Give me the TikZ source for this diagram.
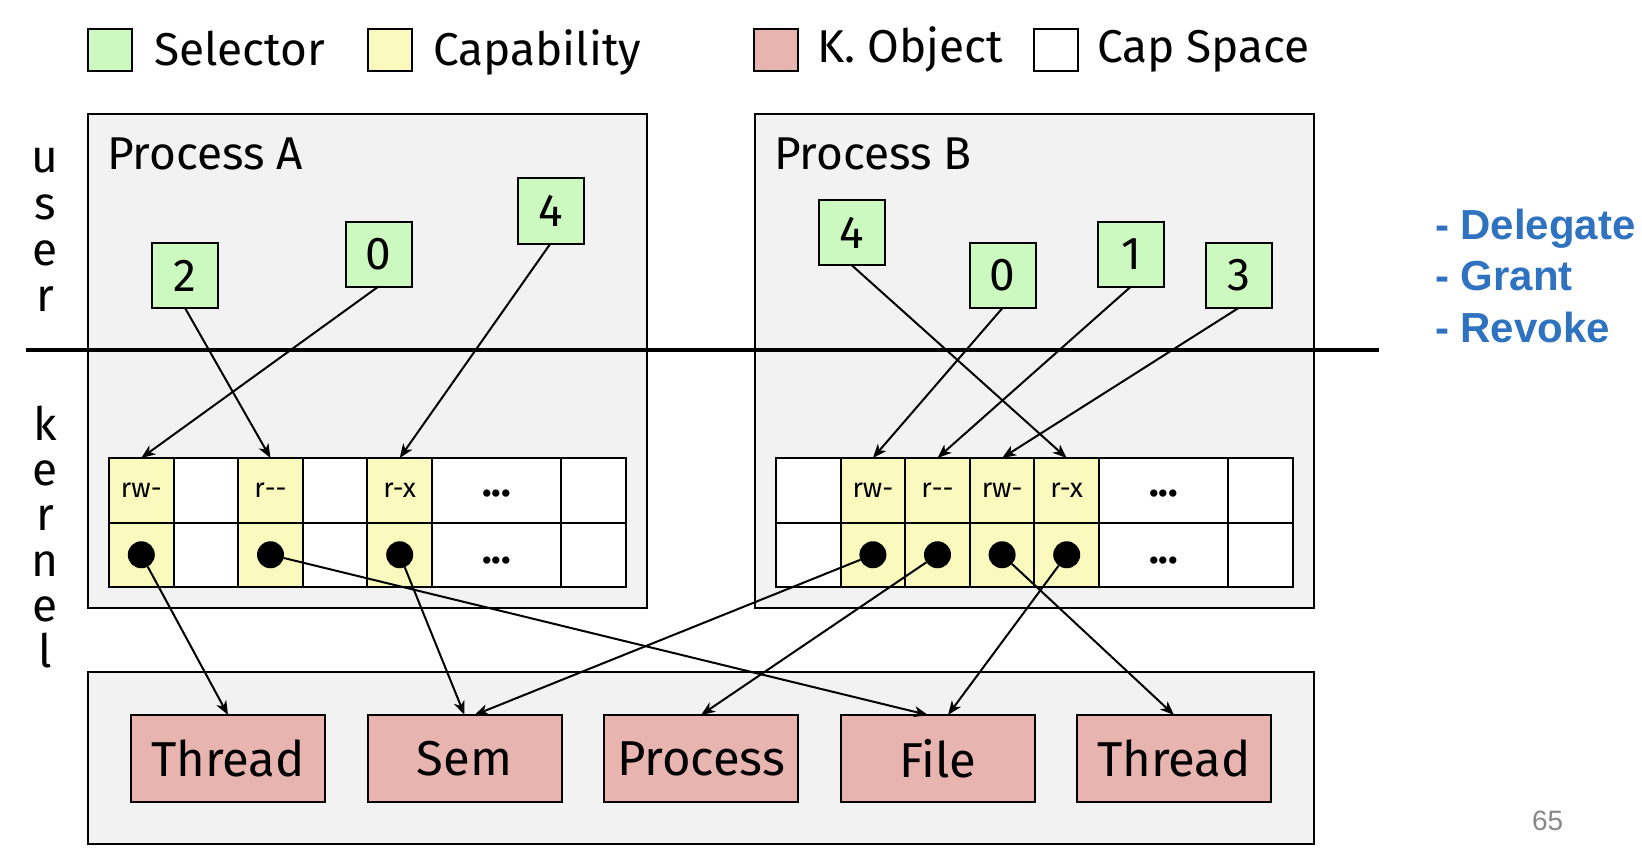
\documentclass[tikz,border=0pt]{standalone}
\usepackage{fontspec}
\setmainfont{Fira Sans}
\newfontfamily\bluefont{Liberation Sans}
\usetikzlibrary{arrows.meta,calc}
\definecolor{selgreen}{RGB}{204,249,191}
\definecolor{capyellow}{RGB}{250,250,190}
\definecolor{objpink}{RGB}{232,180,176}
\definecolor{boxgray}{RGB}{242,242,242}
\definecolor{noteblue}{RGB}{46,114,192}
\definecolor{pagegray}{RGB}{135,135,135}
\begin{document}
\begin{tikzpicture}[x=1pt,y=-1pt,
  every node/.style={inner sep=0pt, outer sep=0pt},
  area/.style={draw=black, fill=boxgray, line width=2pt, anchor=north west},
  sel/.style={draw, fill=selgreen, line width=2pt, minimum width=66pt, minimum height=65pt, font=\fontsize{46}{50}\selectfont},
  cell/.style={draw, line width=2pt, minimum width=64.6pt, minimum height=64.5pt, fill=white, font=\fontsize{27}{30}\selectfont},
  capcell/.style={cell, fill=capyellow},
  widecell/.style={cell, minimum width=129.2pt, font=\fontsize{40}{40}\selectfont\bfseries, text depth=0pt},
  dot/.style={circle, fill=black, minimum size=27pt},
  kobj/.style={draw, fill=objpink, line width=2pt, minimum width=194pt, minimum height=87pt, font=\fontsize{49}{54}\selectfont},
  ptr/.style={line width=2pt, -{Stealth[length=14pt,width=11pt,inset=4pt]}},
  legbox/.style={draw, line width=2pt, minimum width=44pt, minimum height=42pt},
  lbl/.style={font=\fontsize{46}{50}\selectfont, anchor=base west},
  vletter/.style={font=\fontsize{46}{50}\selectfont, anchor=base},
  note/.style={font=\bluefont\bfseries\fontsize{42}{50}\selectfont, text=noteblue, anchor=base west},
]
\fill[white] (0,0) rectangle (1642,856);
\useasboundingbox (0,0) rectangle (1642,856);

% legend
\node[legbox, fill=selgreen] (lgsel) at (110,50) {};
\node[lbl] (lgseltxt) at (154,66) {Selector};
\node[legbox, fill=capyellow] (lgcap) at (389.5,50) {};
\node[lbl] (lgcaptxt) at (433,66) {Capability};
\node[legbox, fill=objpink] (lgobj) at (776,50) {};
\node[lbl] (lgobjtxt) at (817,63) {K. Object};
\node[legbox, fill=white] (lgspace) at (1055.5,50) {};
\node[lbl] (lgspacetxt) at (1097,63) {Cap Space};

% areas
\node[area, minimum width=559pt, minimum height=494pt] (procA) at (88,114) {};
\node[area, minimum width=559pt, minimum height=494pt] (procB) at (755,114) {};
\node[area, minimum width=1226pt, minimum height=172pt] (kern) at (88,672) {};
\node[lbl] (procAlbl) at (107,170) {Process A};
\node[lbl] (procBlbl) at (774,170) {Process B};

% user / kernel labels
\foreach \l [count=\i] in {u,s,e,r}
  \node[vletter] (user\i) at (45,{173+46*(\i-1)}) {\l};
\foreach \l [count=\i] in {k,e,r,n,e,l}
  \node[vletter] (kernel\i) at (45,{440+45.4*(\i-1)}) {\l};

% separator line
\coordinate (sepL) at (26,350);
\coordinate (sepR) at (1379,350);
\draw[line width=4.5pt] (sepL) -- (sepR);

% selectors
\node[sel] (sA2) at (185,275.5) {2};
\node[sel] (sA0) at (378.5,254) {0};
\node[sel] (sA4) at (550.5,211) {4};
\node[sel] (sB4) at (851.5,232.5) {4};
\node[sel] (sB0) at (1002.5,275.5) {0};
\node[sel] (sB1) at (1131,254) {1};
\node[sel] (sB3) at (1238.5,275.5) {3};

% capability table A
\node[capcell] (at0) at (141.3,490.25) {rw-};
\node[cell]    (at1) at (205.9,490.25) {};
\node[capcell] (at2) at (270.5,490.25) {r\mbox{-}\mbox{-}};
\node[cell]    (at3) at (335.1,490.25) {};
\node[capcell] (at4) at (399.7,490.25) {r-x};
\node[widecell, text height=12pt] (at5) at (496.6,490.25) {...};
\node[cell]    (at7) at (593.5,490.25) {};
\node[capcell] (ab0) at (141.3,554.75) {};
\node[cell]    (ab1) at (205.9,554.75) {};
\node[capcell] (ab2) at (270.5,554.75) {};
\node[cell]    (ab3) at (335.1,554.75) {};
\node[capcell] (ab4) at (399.7,554.75) {};
\node[widecell, text height=18pt] (ab5) at (496.6,554.75) {...};
\node[cell]    (ab7) at (593.5,554.75) {};
\node[dot] (da0) at (ab0) {};
\node[dot] (da2) at (ab2) {};
\node[dot] (da4) at (ab4) {};

% capability table B
\node[cell]    (bt0) at (808.3,490.25) {};
\node[capcell] (bt1) at (872.9,490.25) {rw-};
\node[capcell] (bt2) at (937.5,490.25) {r\mbox{-}\mbox{-}};
\node[capcell] (bt3) at (1002.1,490.25) {rw-};
\node[capcell] (bt4) at (1066.7,490.25) {r-x};
\node[widecell, text height=12pt] (bt5) at (1163.6,490.25) {...};
\node[cell]    (bt7) at (1260.5,490.25) {};
\node[cell]    (bb0) at (808.3,554.75) {};
\node[capcell] (bb1) at (872.9,554.75) {};
\node[capcell] (bb2) at (937.5,554.75) {};
\node[capcell] (bb3) at (1002.1,554.75) {};
\node[capcell] (bb4) at (1066.7,554.75) {};
\node[widecell, text height=18pt] (bb5) at (1163.6,554.75) {...};
\node[cell]    (bb7) at (1260.5,554.75) {};
\node[dot] (db1) at (bb1) {};
\node[dot] (db2) at (bb2) {};
\node[dot] (db3) at (bb3) {};
\node[dot] (db4) at (bb4) {};

% kernel objects
\node[kobj] (thr1) at (228,758.5) {Thread};
\node[kobj] (sem)  at (464.5,758.5) {Sem};
\node[kobj] (proc) at (701,758.5) {Process};
\node[kobj] (file) at (938,758.5) {File};
\node[kobj] (thr2) at (1174,758.5) {Thread};

% selector -> capability
\draw[ptr] (sA2.south) -- (at2.north);
\draw[ptr] (sA0.south) -- (at0.north);
\draw[ptr] (sA4.south) -- (at4.north);
\draw[ptr] (sB4.south) -- (bt4.north);
\draw[ptr] (sB0.south) -- (bt1.north);
\draw[ptr] (sB1.south) -- (bt2.north);
\draw[ptr] (sB3.south) -- (bt3.north);

% capability -> object
\draw[ptr] (da0) -- (thr1.north);
\draw[ptr] (da2) -- ([xshift=-10pt]file.north);
\draw[ptr] (da4) -- (sem.north);
\draw[ptr] (db1) -- ([xshift=10pt]sem.north);
\draw[ptr] (db2) -- (proc.north);
\draw[ptr] (db3) -- (thr2.north);
\draw[ptr] (db4) -- ([xshift=10pt]file.north);

% notes
\node[note] (ndel) at (1435,240) {- Delegate};
\node[note] (ngra) at (1435,290) {- Grant};
\node[note] (nrev) at (1435,342) {- Revoke};
\node[anchor=base west, text=pagegray, font=\bluefont\fontsize{28}{30}\selectfont] (pgnum) at (1532,830) {65};
\end{tikzpicture}
\end{document}
